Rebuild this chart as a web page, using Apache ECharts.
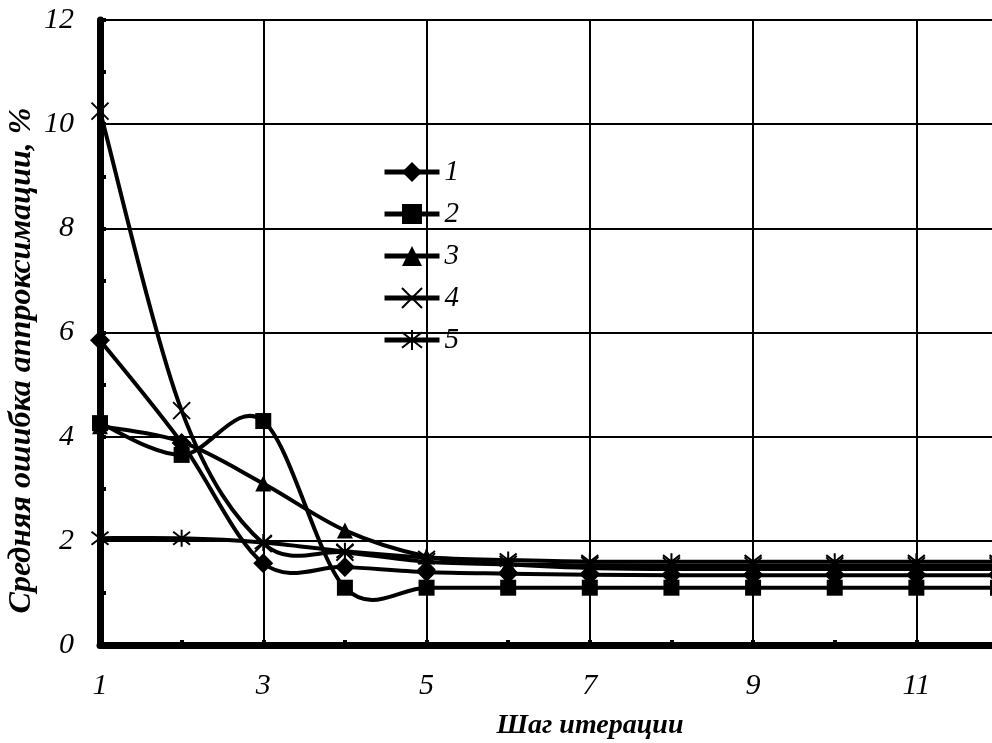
<!DOCTYPE html>
<html>
<head>
<meta charset="utf-8">
<script src="https://cdn.jsdelivr.net/npm/echarts@6/dist/echarts.min.js"></script>
<style>
html,body{margin:0;padding:0;background:#fff;}
#chart{width:992px;height:743px;}
</style>
</head>
<body>
<div id="chart"></div>
<script>
// Data
var steps = [1, 2, 3, 4, 5, 6, 7, 8, 9, 10, 11, 12];
var series1 = [5.85, 3.88, 1.57, 1.5, 1.4, 1.37, 1.35, 1.34, 1.34, 1.34, 1.34, 1.34];
var series2 = [4.26, 3.65, 4.3, 1.1, 1.1, 1.1, 1.1, 1.1, 1.1, 1.1, 1.1, 1.1];
var series3 = [4.2, 3.9, 3.1, 2.2, 1.7, 1.55, 1.48, 1.46, 1.46, 1.46, 1.46, 1.46];
var series4 = [10.25, 4.5, 1.95, 1.78, 1.6, 1.55, 1.53, 1.52, 1.52, 1.52, 1.52, 1.52];
var series5 = [2.05, 2.05, 1.97, 1.8, 1.68, 1.63, 1.6, 1.6, 1.6, 1.6, 1.6, 1.6];
var seriesNames = ['1', '2', '3', '4', '5'];
var xTitle = 'Шаг итерации';
var yTitle = 'Средняя ошибка аппроксимации, %';

var FONT = 'Liberation Serif';
var crossPath = 'path://M0,0L10,10M10,0L0,10';
var starPath = 'path://M0,0L10,10M10,0L0,10M5,-1.5L5,11.5';

function pairs(arr) {
  return steps.map(function (s, i) { return [s, arr[i]]; });
}

// markers (and legend entries) drawn by line series
function markerSeries(name, arr, symbol, size, stroke) {
  return {
    name: name,
    type: 'line',
    data: pairs(arr),
    symbol: symbol,
    symbolSize: size,
    showAllSymbol: true,
    lineStyle: { color: '#000', width: 4, opacity: 0 },
    itemStyle: stroke ? { color: '#000', borderColor: '#000', borderWidth: 2 } : { color: '#000', borderWidth: 0 },
    emphasis: { disabled: true },
    z: 4
  };
}

// smooth curve (Excel-like Catmull-Rom) through the data, placed via axis scales
function curveSeries(arr, id) {
  return {
    name: 'curve' + id,
    type: 'custom',
    data: [[steps[0], arr[0]]],
    silent: true,
    clip: true,
    z: 3,
    renderItem: function (params, api) {
      var pts = steps.map(function (s, i) { return api.coord([s, arr[i]]); });
      var n = pts.length;
      var d = 'M' + pts[0][0] + ',' + pts[0][1];
      for (var i = 0; i < n - 1; i++) {
        var p0 = pts[Math.max(i - 1, 0)], p1 = pts[i], p2 = pts[i + 1], p3 = pts[Math.min(i + 2, n - 1)];
        var c1x = p1[0] + (p2[0] - p0[0]) / 6, c1y = p1[1] + (p2[1] - p0[1]) / 6;
        var c2x = p2[0] - (p3[0] - p1[0]) / 6, c2y = p2[1] - (p3[1] - p1[1]) / 6;
        d += ' C' + c1x + ',' + c1y + ' ' + c2x + ',' + c2y + ' ' + p2[0] + ',' + p2[1];
      }
      return {
        type: 'path',
        shape: { pathData: d },
        style: { fill: 'none', stroke: '#000', lineWidth: 4, lineJoin: 'round' }
      };
    }
  };
}

var chart = echarts.init(document.getElementById('chart'), null, { renderer: 'canvas' });
chart.setOption({
  animation: false,
  backgroundColor: '#fff',
  grid: { left: 100, right: -6, top: 20, bottom: 98, containLabel: false, outerBoundsMode: 'none' },
  legend: {
    orient: 'vertical',
    left: 382,
    top: 157,
    padding: 0,
    itemWidth: 55,
    itemHeight: 25,
    itemGap: 12,
    data: seriesNames,
    lineStyle: { color: '#000', width: 5, opacity: 1 },
    textStyle: { fontFamily: FONT, fontStyle: 'italic', fontSize: 29, color: '#000', lineHeight: 30 },
    backgroundColor: 'rgba(0,0,0,0)'
  },
  xAxis: {
    type: 'value',
    min: 1,
    max: 12,
    interval: 2,
    name: xTitle,
    nameLocation: 'middle',
    nameGap: 67,
    nameMoveOverlap: false,
    nameTextStyle: { fontFamily: FONT, fontStyle: 'italic', fontWeight: 'bold', fontSize: 28, color: '#000', padding: [0, 0, 0, 82] },
    axisLine: { show: true, onZero: false, lineStyle: { color: '#000', width: 7 } },
    axisTick: { show: true, inside: true, length: 5, lineStyle: { color: '#000', width: 4 } },
    minorTick: { show: true, splitNumber: 2, length: 5, lineStyle: { color: '#000', width: 4 } },
    axisLabel: { show: true, margin: 26, showMaxLabel: false, fontFamily: FONT, fontStyle: 'italic', fontSize: 30, color: '#000' },
    splitLine: { show: true, lineStyle: { color: '#000', width: 2 } }
  },
  yAxis: {
    type: 'value',
    min: 0,
    max: 12,
    interval: 2,
    name: yTitle,
    nameLocation: 'middle',
    nameRotate: 90,
    nameGap: 62,
    nameMoveOverlap: false,
    nameTextStyle: { fontFamily: FONT, fontStyle: 'italic', fontWeight: 'bold', fontSize: 32, color: '#000', padding: [0, 56, 0, 0] },
    axisLine: { show: true, onZero: false, lineStyle: { color: '#000', width: 7 } },
    axisTick: { show: true, inside: true, length: 6, lineStyle: { color: '#000', width: 4 } },
    minorTick: { show: true, splitNumber: 2, length: 6, lineStyle: { color: '#000', width: 4 } },
    axisLabel: { show: true, margin: 26, fontFamily: FONT, fontStyle: 'italic', fontSize: 30, color: '#000' },
    splitLine: { show: true, lineStyle: { color: '#000', width: 2 } }
  },
  series: [
    curveSeries(series1, 1),
    curveSeries(series2, 2),
    curveSeries(series3, 3),
    curveSeries(series4, 4),
    curveSeries(series5, 5),
    markerSeries(seriesNames[0], series1, 'diamond', 20, false),
    markerSeries(seriesNames[1], series2, 'rect', 16, false),
    markerSeries(seriesNames[2], series3, 'triangle', 16, false),
    markerSeries(seriesNames[3], series4, crossPath, 17, true),
    markerSeries(seriesNames[4], series5, starPath, 17, true)
  ]
});
</script>
</body>
</html>
